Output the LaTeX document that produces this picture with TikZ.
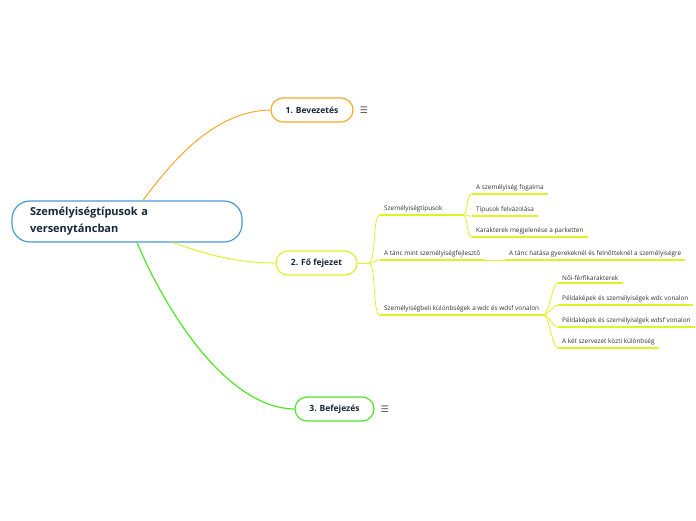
\documentclass[tikz,border=0pt]{standalone}
\usepackage{fontspec}
\setmainfont{Open Sans}
\newfontfamily\symfont{DejaVu Sans}
\usetikzlibrary{positioning}
\definecolor{rootblue}{RGB}{74,154,216}
\definecolor{introorange}{RGB}{247,168,42}
\definecolor{mainlime}{RGB}{222,242,40}
\definecolor{conclgreen}{RGB}{80,230,40}
\definecolor{nodeink}{RGB}{24,40,56}
\definecolor{leafink}{RGB}{50,50,50}
\tikzset{
  topic/.style={
    draw, line width=1.2pt, fill=white,
    rounded corners=12pt, minimum height=24pt, inner xsep=0pt,
    font=\bfseries\fontsize{8.5}{10}\selectfont, text=nodeink,
  },
  leaf/.style={
    anchor=south west, inner xsep=4pt, inner ysep=2.5pt,
    font=\fontsize{6.4}{7.5}\selectfont, text=leafink, align=left,
  },
  uline/.style={draw=mainlime, line width=1.5pt},
  sub/.style={draw=mainlime, line width=0.8pt},
  icon/.style={font=\symfont\fontsize{9}{9}\selectfont, text=black!70, inner sep=0pt},
}

\begin{document}
\begin{tikzpicture}[x=1pt, y=-1pt]
\useasboundingbox (0,0) rectangle (696,520);

% central topic
\node[draw=rootblue, line width=1.2pt, fill=white, rounded corners=18pt,
      minimum height=41pt, inner xsep=18pt, text width=194pt, align=left,
      font=\bfseries\fontsize{11}{17}\selectfont, text=nodeink]
      (root) at (127,221.5) {Személyiségtípusok a\\versenytáncban};

% main topics
\node[topic, draw=introorange, minimum width=82pt] (intro) at (312,110) {1. Bevezetés};
\node[topic, draw=mainlime, minimum width=81pt] (main) at (316.5,263) {2. Fő fejezet};
\node[topic, draw=conclgreen, minimum width=79pt] (concl) at (334.5,409) {3. Befejezés};
\node[icon, right=6pt of intro] (introicon) {☰};
\node[icon, right=6pt of concl] (conclicon) {☰};

\draw[introorange, line width=1pt] ([xshift=16pt]root.north) .. controls (180,150) and (220,111) .. (intro.west);
\draw[mainlime, line width=1pt] ([xshift=46pt]root.south) .. controls (210,256) and (240,263) .. (main.west);
\draw[conclgreen, line width=1.2pt] ([xshift=10pt]root.south) .. controls (170,320) and (230,408) .. (concl.west);

% subtopics
\node[leaf, text width=74pt] (tipusok) at (380,215) {Személyiségtípusok};
\node[leaf] (fogalma) at (472,194) {A személyiség fogalma};
\node[leaf] (felvazolas) at (472,216) {Típusok felvázolása};
\node[leaf] (karakterek) at (472,237) {Karakterek megjelenése a parketten};
\node[leaf] (tanc) at (380,260) {A tánc mint személyiségfejlesztő};
\node[leaf] (hatasa) at (505,260) {A tánc hatása gyerekeknél és felnőtteknél a személyiségre};
\node[leaf] (kulonbseg) at (380,315) {Személyiségbeli különbségek a wdc és wdsf vonalon};
\node[leaf] (nofer) at (558,283) {Női-férfikarakterek};
\node[leaf] (wdc) at (558,305) {Példaképek és személyiségek wdc vonalon};
\node[leaf] (wdsf) at (558,327) {Példaképek és személyiségek wdsf vonalon};
\node[leaf] (szervezet) at (558,348) {A két szervezet közti különbség};

\foreach \n in {tipusok,fogalma,felvazolas,karakterek,tanc,hatasa,kulonbseg,nofer,wdc,wdsf,szervezet}
  \draw[uline] (\n.south west) -- (\n.south east);

\coordinate[right=11pt of main] (fork);
\draw[sub] (main.east) -- (fork);
\foreach \n in {tipusok,tanc,kulonbseg}
  \draw[sub] (fork) .. controls +(8,0) and +(-8,0) .. (\n.south west);
\foreach \n in {fogalma,felvazolas,karakterek}
  \draw[sub] (tipusok.south east) .. controls +(6,0) and +(-6,0) .. (\n.south west);
\draw[sub] (tanc.south east) -- (hatasa.south west);
\foreach \n in {nofer,wdc,wdsf,szervezet}
  \draw[sub] (kulonbseg.south east) .. controls +(6,0) and +(-6,0) .. (\n.south west);

\end{tikzpicture}
\end{document}
